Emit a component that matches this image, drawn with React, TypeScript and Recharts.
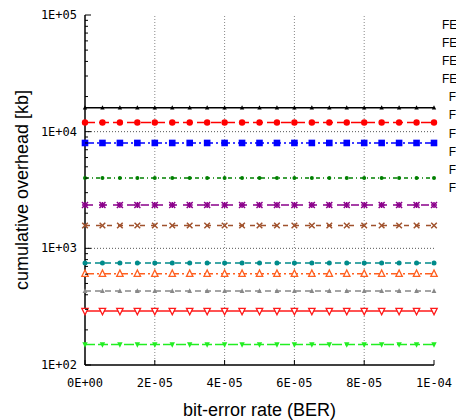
import React from 'react';
import { LineChart, Line, XAxis, YAxis, ReferenceLine, Label } from 'recharts';

// bit-error rate sample points (x)
const berValues = [
  0, 0.000005, 0.00001, 0.000015, 0.00002, 0.000025, 0.00003, 0.000035, 0.00004, 0.000045,
  0.00005, 0.000055, 0.00006, 0.000065, 0.00007, 0.000075, 0.00008, 0.000085, 0.00009,
  0.000095, 0.0001,
];
// cumulative overhead per scheme [kb], flat over the BER range
const overheadKb = [16000, 12000, 8000, 4000, 2350, 1570, 750, 605, 430, 291, 150];
const legendNames = [
  'FEC 1024', 'FEC 2048', 'FEC 4096', 'FEC 8192',
  'FEC 512', 'FEC 384', 'FEC 256', 'FEC 192', 'FEC 128', 'FEC 100',
];

const xTicks = [0, 0.00002, 0.00004, 0.00006, 0.00008, 0.0001];
const xGrid = [0.00002, 0.00004, 0.00006, 0.00008];
const yMajor = [100, 1000, 10000, 100000];
const yTicks = [
  100, 200, 300, 400, 500, 600, 700, 800, 900,
  1000, 2000, 3000, 4000, 5000, 6000, 7000, 8000, 9000,
  10000, 20000, 30000, 40000, 50000, 60000, 70000, 80000, 90000, 100000,
];

const styles = [
  { color: '#000000', dash: undefined, shape: 'triUp', size: 2.2 },
  { color: '#ff0000', dash: '10 4', shape: 'circle', size: 3.2 },
  { color: '#0000ff', dash: '9 3 2 3', shape: 'square', size: 3.3 },
  { color: '#008000', dash: '4 3 1 3', shape: 'circle', size: 2 },
  { color: '#8b008b', dash: '8 6', shape: 'star', size: 3 },
  { color: '#a0522d', dash: '5 6', shape: 'cross', size: 2.8 },
  { color: '#008b8b', dash: '6 4', shape: 'circle', size: 2.5 },
  { color: '#ff6020', dash: '9 3 2 3', shape: 'triOpen', size: 3.2 },
  { color: '#888888', dash: '6 4', shape: 'triUp', size: 2.4 },
  { color: '#ff1a1a', dash: undefined, shape: 'triDownOpen', size: 3.2 },
  { color: '#22ee22', dash: '10 3', shape: 'triDown', size: 2.7 },
];

const data = berValues.map((ber) => {
  const row: Record<string, number> = { ber };
  overheadKb.forEach((v, i) => {
    row['s' + i] = v;
  });
  return row;
});

const fmtE = (v: number) => {
  if (v === 0) return '0E+00';
  const [m, e] = v.toExponential(0).split('e');
  const n = parseInt(e, 10);
  return `${m}E${n < 0 ? '-' : '+'}${String(Math.abs(n)).padStart(2, '0')}`;
};

const mono = 'DejaVu Sans Mono, monospace';

const makeDot = (shape: string, color: string, h: number) => (props: any) => {
  const { cx, cy, index } = props;
  const k = `d${index}`;
  if (cx == null || cy == null) return <g key={k} />;
  switch (shape) {
    case 'circle':
      return <circle key={k} cx={cx} cy={cy} r={h} fill={color} />;
    case 'square':
      return <rect key={k} x={cx - h} y={cy - h} width={2 * h} height={2 * h} fill={color} />;
    case 'triUp':
      return <polygon key={k} points={`${cx},${cy - h * 1.2} ${cx - h},${cy + h * 0.8} ${cx + h},${cy + h * 0.8}`} fill={color} />;
    case 'triOpen':
      return <polygon key={k} points={`${cx},${cy - h * 1.2} ${cx - h},${cy + h * 0.8} ${cx + h},${cy + h * 0.8}`} fill="#fff" stroke={color} strokeWidth={1.3} />;
    case 'triDown':
      return <polygon key={k} points={`${cx},${cy + h * 1.2} ${cx - h},${cy - h * 0.8} ${cx + h},${cy - h * 0.8}`} fill={color} />;
    case 'triDownOpen':
      return <polygon key={k} points={`${cx},${cy + h * 1.2} ${cx - h},${cy - h * 0.8} ${cx + h},${cy - h * 0.8}`} fill="#fff" stroke={color} strokeWidth={1.3} />;
    case 'cross':
      return (
        <g key={k} stroke={color} strokeWidth={1.5}>
          <line x1={cx - h} y1={cy - h} x2={cx + h} y2={cy + h} />
          <line x1={cx - h} y1={cy + h} x2={cx + h} y2={cy - h} />
        </g>
      );
    case 'star':
      return (
        <g key={k} stroke={color} strokeWidth={1.5}>
          <line x1={cx - h} y1={cy - h} x2={cx + h} y2={cy + h} />
          <line x1={cx - h} y1={cy + h} x2={cx + h} y2={cy - h} />
          <line x1={cx - h} y1={cy} x2={cx + h} y2={cy} />
          <line x1={cx} y1={cy - h} x2={cx} y2={cy + h} />
        </g>
      );
    default:
      return <g key={k} />;
  }
};

const LeftTick = (props: any) => {
  const { x, y, payload } = props;
  const major = yMajor.includes(payload.value);
  return (
    <g>
      <line x1={x} x2={x + (major ? 6 : 3)} y1={y} y2={y} stroke="#000" />
      {major && (
        <text x={x - 8} y={y} dy={4} textAnchor="end" fontFamily={mono} fontSize={12} fill="#000">
          {fmtE(payload.value)}
        </text>
      )}
    </g>
  );
};

const RightTick = (props: any) => {
  const { x, y, payload } = props;
  const major = yMajor.includes(payload.value);
  return <line x1={x} x2={x - (major ? 6 : 3)} y1={y} y2={y} stroke="#000" />;
};

const BottomTick = (props: any) => {
  const { x, y, payload } = props;
  return (
    <g>
      <line x1={x} x2={x} y1={y} y2={y - 5} stroke="#000" />
      <text x={x} y={y + 22} textAnchor="middle" fontFamily={mono} fontSize={12} fill="#000">
        {fmtE(payload.value)}
      </text>
    </g>
  );
};

const TopTick = (props: any) => {
  const { x, y } = props;
  return <line x1={x} x2={x} y1={y} y2={y + 5} stroke="#000" />;
};

const axisLine = { stroke: '#000', strokeWidth: 1.5 };

export default function App() {
  return (
    <div style={{ position: 'absolute', left: 0, top: 0, width: 456, height: 420, overflow: 'hidden', background: '#fff' }}>
      <LineChart width={456} height={420} data={data} margin={{ top: 15, right: 22, left: 0, bottom: 0 }}>
        <XAxis
          xAxisId="b"
          dataKey="ber"
          type="number"
          domain={[0, 0.0001]}
          ticks={xTicks}
          tick={<BottomTick />}
          tickLine={false}
          tickSize={0}
          tickMargin={0}
          axisLine={axisLine}
          height={55}
          interval={0}
        >
          <Label value="bit-error rate (BER)" position="insideBottom" offset={4} fontFamily="Liberation Sans, Arial, sans-serif" fontSize={18} fill="#000" />
        </XAxis>
        <XAxis
          xAxisId="t"
          orientation="top"
          dataKey="ber"
          type="number"
          domain={[0, 0.0001]}
          ticks={xTicks}
          tick={<TopTick />}
          tickLine={false}
          tickSize={0}
          tickMargin={0}
          axisLine={axisLine}
          height={0}
          interval={0}
        />
        <YAxis
          yAxisId="l"
          scale="log"
          type="number"
          domain={[100, 100000]}
          ticks={yTicks}
          tick={<LeftTick />}
          tickLine={false}
          tickSize={0}
          tickMargin={0}
          axisLine={axisLine}
          width={85}
          interval={0}
          allowDataOverflow
        >
          <Label
            value="cumulative overhead [kb]"
            angle={-90}
            position="insideLeft"
            offset={22}
            fontFamily="Liberation Sans, Arial, sans-serif"
            fontSize={18}
            fill="#000"
            style={{ textAnchor: 'middle' }}
          />
        </YAxis>
        <YAxis
          yAxisId="r"
          orientation="right"
          scale="log"
          type="number"
          domain={[100, 100000]}
          ticks={yTicks}
          tick={<RightTick />}
          tickLine={false}
          tickSize={0}
          tickMargin={0}
          axisLine={axisLine}
          width={0}
          interval={0}
          allowDataOverflow
        />
        {xGrid.map((v) => (
          <ReferenceLine key={'x' + v} x={v} xAxisId="b" yAxisId="l" stroke="#888" strokeDasharray="1 2" />
        ))}
        {[1000, 10000].map((v) => (
          <ReferenceLine key={'y' + v} y={v} xAxisId="b" yAxisId="l" stroke="#555" strokeDasharray="1 2" />
        ))}
        {styles.map((s, i) => (
          <Line
            key={i}
            xAxisId="b"
            yAxisId="l"
            dataKey={'s' + i}
            stroke={s.color}
            strokeWidth={1.5}
            strokeDasharray={s.dash}
            dot={makeDot(s.shape, s.color, s.size)}
            activeDot={false}
            isAnimationActive={false}
          />
        ))}
      </LineChart>
      <div
        style={{
          position: 'absolute',
          left: 380,
          top: 16,
          width: 116,
          textAlign: 'right',
          fontFamily: 'Liberation Sans, Arial, sans-serif',
          fontSize: 12,
          lineHeight: '18.1px',
          whiteSpace: 'nowrap',
        }}
      >
        {legendNames.map((n) => (
          <div key={n}>{n}</div>
        ))}
      </div>
    </div>
  );
}
